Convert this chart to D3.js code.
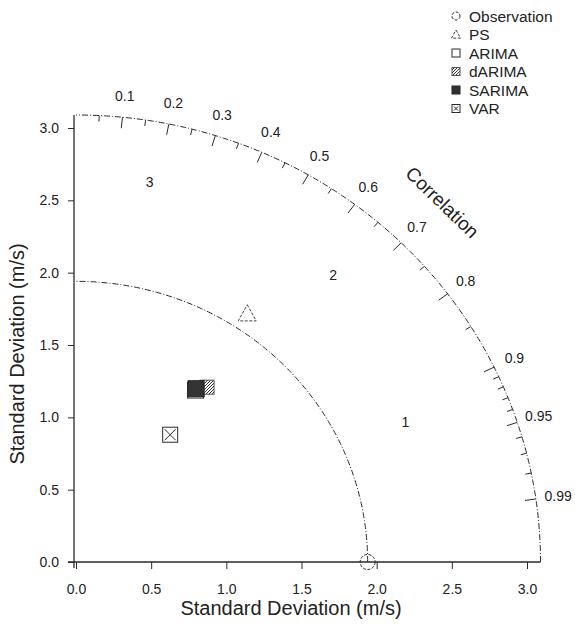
<!DOCTYPE html>
<html><head><meta charset="utf-8">
<script src="https://cdn.jsdelivr.net/npm/d3@7"></script>
<style>
body{margin:0;background:#fff;}
text{font-family:"Liberation Sans",Arial,sans-serif;fill:#222;}
</style></head>
<body><svg id="c" width="575" height="632"></svg>
<script>
// ---- data ----
const models = ["Observation","PS","ARIMA","dARIMA","SARIMA","VAR"];
const stdDev = [1.94, 2.06, 1.43, 1.49, 1.44, 1.08];
const correlation = [1.0, 0.553, 0.556, 0.585, 0.555, 0.58];
const axisTicks = [0.0,0.5,1.0,1.5,2.0,2.5,3.0];
const corrMajor = [0.1,0.2,0.3,0.4,0.5,0.6,0.7,0.8,0.9,0.95,0.99];
const corrMinor = [0.05,0.15,0.25,0.35,0.45,0.55,0.65,0.75,0.85,0.91,0.92,0.93,0.94,0.96,0.97,0.98];
const rmsLabels = [1,2,3];
const rmsLabelAngle = [75.5, 96.6, 118.9];
const maxStd = 3.09;

const svg = d3.select("#c");
const x = d3.scaleLinear().domain([0,3]).range([76,527]);
const y = d3.scaleLinear().domain([0,3]).range([562,128]);
const P = (s,c)=>[x(s*c), y(s*Math.sqrt(Math.max(0,1-c*c)))];
const ink = "#2a2a2a";

// arcs
function arc(r){
  const pts = d3.range(0,90.01,0.5).map(a=>[x(r*Math.cos(a*Math.PI/180)), y(r*Math.sin(a*Math.PI/180))]);
  return d3.line()(pts);
}
svg.append("path").attr("d",arc(maxStd)).attr("fill","none").attr("stroke",ink)
  .attr("stroke-width",1).attr("stroke-dasharray","6,2,1,2");
svg.append("path").attr("d",arc(stdDev[0])).attr("fill","none").attr("stroke",ink)
  .attr("stroke-width",1).attr("stroke-dasharray","6,2,1,2");

// correlation ticks
function tick(c,len){
  const a=Math.acos(c), r=maxStd;
  const x1=x(r*Math.cos(a)), y1=y(r*Math.sin(a));
  const dx=x1-x(0), dy=y1-y(0), L=Math.hypot(dx,dy);
  svg.append("line").attr("x1",x1).attr("y1",y1)
    .attr("x2",x1-dx/L*len).attr("y2",y1-dy/L*len).attr("stroke",ink).attr("stroke-width",1);
}
corrMajor.forEach(c=>tick(c,11));
corrMinor.forEach(c=>tick(c,6));
corrMajor.forEach(c=>{
  const a=Math.acos(c), r=3.24;
  svg.append("text").attr("x",x(r*Math.cos(a))).attr("y",y(r*Math.sin(a)))
    .attr("text-anchor","middle").attr("dominant-baseline","central")
    .attr("font-size",14).text(String(c));
});
// correlation title
{
  const a=Math.acos(0.70), r=3.48;
  svg.append("text").attr("transform",`translate(${x(r*Math.cos(a))},${y(r*Math.sin(a))}) rotate(44)`)
    .attr("text-anchor","middle").attr("dominant-baseline","central")
    .attr("font-size",19).text("Correlation");
}
// rms labels
rmsLabels.forEach((v,i)=>{
  const a=rmsLabelAngle[i]*Math.PI/180;
  svg.append("text").attr("x",x(stdDev[0]+v*Math.cos(a))).attr("y",y(v*Math.sin(a)))
    .attr("text-anchor","middle").attr("dominant-baseline","central")
    .attr("font-size",14).text(v);
});

// axes
const gx = svg.append("g").attr("transform",`translate(0,${y(0)})`)
  .call(d3.axisBottom(x).tickValues(axisTicks).tickFormat(d3.format(".1f")).tickSize(7).tickPadding(15));
const gy = svg.append("g").attr("transform",`translate(${x(0)-2},0)`)
  .call(d3.axisLeft(y).tickValues(axisTicks).tickFormat(d3.format(".1f")).tickSize(6).tickPadding(9));
[gx,gy].forEach(g=>{
  g.select(".domain").remove();
  g.selectAll("line").attr("stroke",ink);
  g.selectAll("text").attr("font-size",14).attr("fill","#222").attr("font-family","Liberation Sans, Arial, sans-serif");
});
svg.append("line").attr("x1",x(0)-8).attr("x2",x(maxStd)).attr("y1",y(0)).attr("y2",y(0)).attr("stroke",ink).attr("stroke-width",1.3);
svg.append("line").attr("x1",x(0)-2).attr("x2",x(0)-2).attr("y1",y(0)+6).attr("y2",y(maxStd)).attr("stroke",ink).attr("stroke-width",1.3);

svg.append("text").attr("x",291).attr("y",615).attr("text-anchor","middle").attr("font-size",20)
  .text("Standard Deviation (m/s)");
svg.append("text").attr("transform","translate(24,354) rotate(-90)").attr("text-anchor","middle").attr("font-size",20)
  .text("Standard Deviation (m/s)");

// hatch pattern
const defs = svg.append("defs");
const pat = defs.append("pattern").attr("id","hatch").attr("width",3).attr("height",3)
  .attr("patternUnits","userSpaceOnUse");
pat.append("rect").attr("width",3).attr("height",3).attr("fill","#fff");
pat.append("path").attr("d","M0,3 L3,0").attr("stroke","#333").attr("stroke-width",1);

// marker drawing
function marker(g,name,cx,cy,s){
  const h=s/2;
  if(name==="Observation"){
    g.append("circle").attr("cx",cx).attr("cy",cy).attr("r",h).attr("fill","none")
      .attr("stroke",ink).attr("stroke-dasharray","3,1.5");
  } else if(name==="PS"){
    g.append("path").attr("d",`M${cx},${cy-h} L${cx+h},${cy+h*0.8} L${cx-h},${cy+h*0.8}Z`)
      .attr("fill","none").attr("stroke","#444").attr("stroke-dasharray","3,1.5");
  } else if(name==="ARIMA"){
    g.append("rect").attr("x",cx-h).attr("y",cy-h).attr("width",s).attr("height",s)
      .attr("fill","#fff").attr("stroke",ink);
  } else if(name==="dARIMA"){
    g.append("rect").attr("x",cx-h).attr("y",cy-h).attr("width",s).attr("height",s)
      .attr("fill","url(#hatch)").attr("stroke","#555");
  } else if(name==="SARIMA"){
    g.append("rect").attr("x",cx-h).attr("y",cy-h).attr("width",s).attr("height",s)
      .attr("fill","#333").attr("stroke","#222");
  } else if(name==="VAR"){
    g.append("rect").attr("x",cx-h).attr("y",cy-h).attr("width",s).attr("height",s)
      .attr("fill","#fff").attr("stroke",ink);
    g.append("path").attr("d",`M${cx-h+2},${cy-h+2}L${cx+h-2},${cy+h-2}M${cx+h-2},${cy-h+2}L${cx-h+2},${cy+h-2}`)
      .attr("stroke",ink);
  }
}
const sizes = {Observation:15,PS:18,ARIMA:16,dARIMA:14,SARIMA:16,VAR:15};
const order = ["ARIMA","dARIMA","SARIMA","VAR","PS","Observation"];
const gm = svg.append("g");
order.forEach(n=>{
  const i=models.indexOf(n);
  const [cx,cy]=P(stdDev[i],correlation[i]);
  marker(gm,n,cx,cy,sizes[n]);
});

// legend
const lg = svg.append("g");
models.forEach((n,i)=>{
  const cy = 16 + i*18.5;
  marker(lg,n,456,cy, n==="PS"?9:8);
  lg.append("text").attr("x",469).attr("y",cy).attr("dominant-baseline","central")
    .attr("font-size",15.5).text(n);
});
</script></body></html>
